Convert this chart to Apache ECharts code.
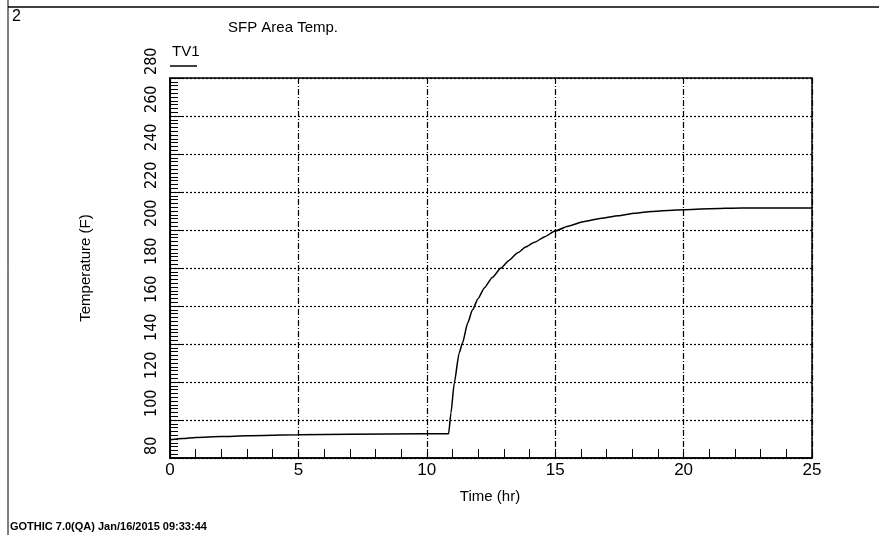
<!DOCTYPE html>
<html>
<head>
<meta charset="utf-8">
<script src="https://cdn.jsdelivr.net/npm/echarts@6/dist/echarts.min.js"></script>
<style>
  html, body { margin: 0; padding: 0; background: #fff; }
  #chart { width: 879px; height: 535px; }
</style>
</head>
<body>
<div id="chart"></div>
<script>
// time (hr) vs SFP area temperature (F)
const timeHr = [0, 0.5, 1, 2, 3, 5, 7, 10, 10.85, 10.94, 11.07, 11.26, 11.39, 11.59, 11.78, 12.0, 12.24, 12.55, 12.89, 13.2, 13.54, 13.85, 14.19, 14.6, 14.97, 15.5, 16.14, 16.8, 17.45, 18.1, 18.75, 19.4, 19.99, 21, 22.27, 25];
const tempF  = [89.6, 90.2, 90.8, 91.3, 91.7, 92.2, 92.5, 92.8, 92.8, 103.7, 119.5, 135.3, 140.5, 151, 158, 164, 169.5, 175, 180, 184, 188, 191, 193.5, 196.5, 199.3, 202, 204.5, 206.2, 207.5, 208.8, 209.8, 210.3, 210.7, 211.2, 211.6, 211.6];
const seriesName = 'TV1';

const chart = echarts.init(document.getElementById('chart'));
const font = 'Liberation Sans, Arial, sans-serif';

const option = {
  animation: false,
  backgroundColor: '#fff',
  grid: {
    left: 170,
    right: 67,
    top: 78,
    bottom: 77,
    show: true,
    borderColor: '#000',
    borderWidth: 1.5,
  },
  graphic: [
    // outer frame lines
    { type: 'line', shape: { x1: 8, y1: 7, x2: 879, y2: 7 }, style: { stroke: '#000', lineWidth: 1.5 } },
    { type: 'line', shape: { x1: 8, y1: 0, x2: 8, y2: 535 }, style: { stroke: '#000', lineWidth: 1 } },
    { type: 'text', left: 12, top: 9, style: { text: '2', font: '16px ' + font, fill: '#000' } },
    { type: 'text', left: 228, top: 20, style: { text: 'SFP Area Temp.', font: '15px ' + font, fill: '#000' } },
    { type: 'text', left: 172, top: 44, style: { text: seriesName, font: '15px ' + font, fill: '#000' } },
    { type: 'line', shape: { x1: 170, y1: 66, x2: 197, y2: 66 }, style: { stroke: '#000', lineWidth: 1.5 } },
    {
      type: 'text', x: 86, y: 268, rotation: Math.PI / 2,
      style: { text: 'Temperature (F)', font: '15px ' + font, fill: '#000', align: 'center', verticalAlign: 'middle' },
    },
    { type: 'text', x: 490, y: 497, style: { text: 'Time (hr)', font: '15px ' + font, fill: '#000', align: 'center', verticalAlign: 'middle' } },
    { type: 'text', left: 10, top: 521, style: { text: 'GOTHIC 7.0(QA) Jan/16/2015 09:33:44', font: 'bold 11px ' + font, fill: '#000' } },
  ],
  xAxis: {
    type: 'value',
    min: 0,
    max: 25,
    interval: 5,
    axisLine: { show: true, lineStyle: { color: '#000', width: 1.5 } },
    axisTick: { show: true, inside: true, length: 9, lineStyle: { color: '#000' } },
    minorTick: { show: true, splitNumber: 5, length: 9, lineStyle: { color: '#000' } },
    axisLabel: { color: '#000', fontSize: 17, fontFamily: font, margin: 4 },
    splitLine: { show: true, lineStyle: { color: '#000', width: 1.2, type: [6, 2, 1, 2] } },
  },
  yAxis: {
    type: 'value',
    min: 80,
    max: 280,
    interval: 20,
    axisLine: { show: true, lineStyle: { color: '#000', width: 1.5 } },
    axisTick: { show: true, inside: true, length: 12, lineStyle: { color: '#000' } },
    minorTick: { show: true, splitNumber: 10, length: 8, lineStyle: { color: '#000' } },
    axisLabel: {
      color: '#000', fontSize: 16, fontFamily: 'Liberation Sans Narrow, DejaVu Sans Condensed, sans-serif',
      rotate: 90, margin: 18, align: 'left', verticalAlign: 'middle', padding: [0, 0, 0, 3],
    },
    splitLine: { show: true, lineStyle: { color: '#000', width: 1.2, type: [2, 2] } },
  },
  series: [
    {
      name: seriesName,
      type: 'line',
      data: timeHr.map((t, i) => [t, tempF[i]]),
      showSymbol: false,
      smooth: 0.2,
      smoothMonotone: 'x',
      lineStyle: { color: '#000', width: 1.5 },
    },
  ],
};

chart.setOption(option);
</script>
</body>
</html>
